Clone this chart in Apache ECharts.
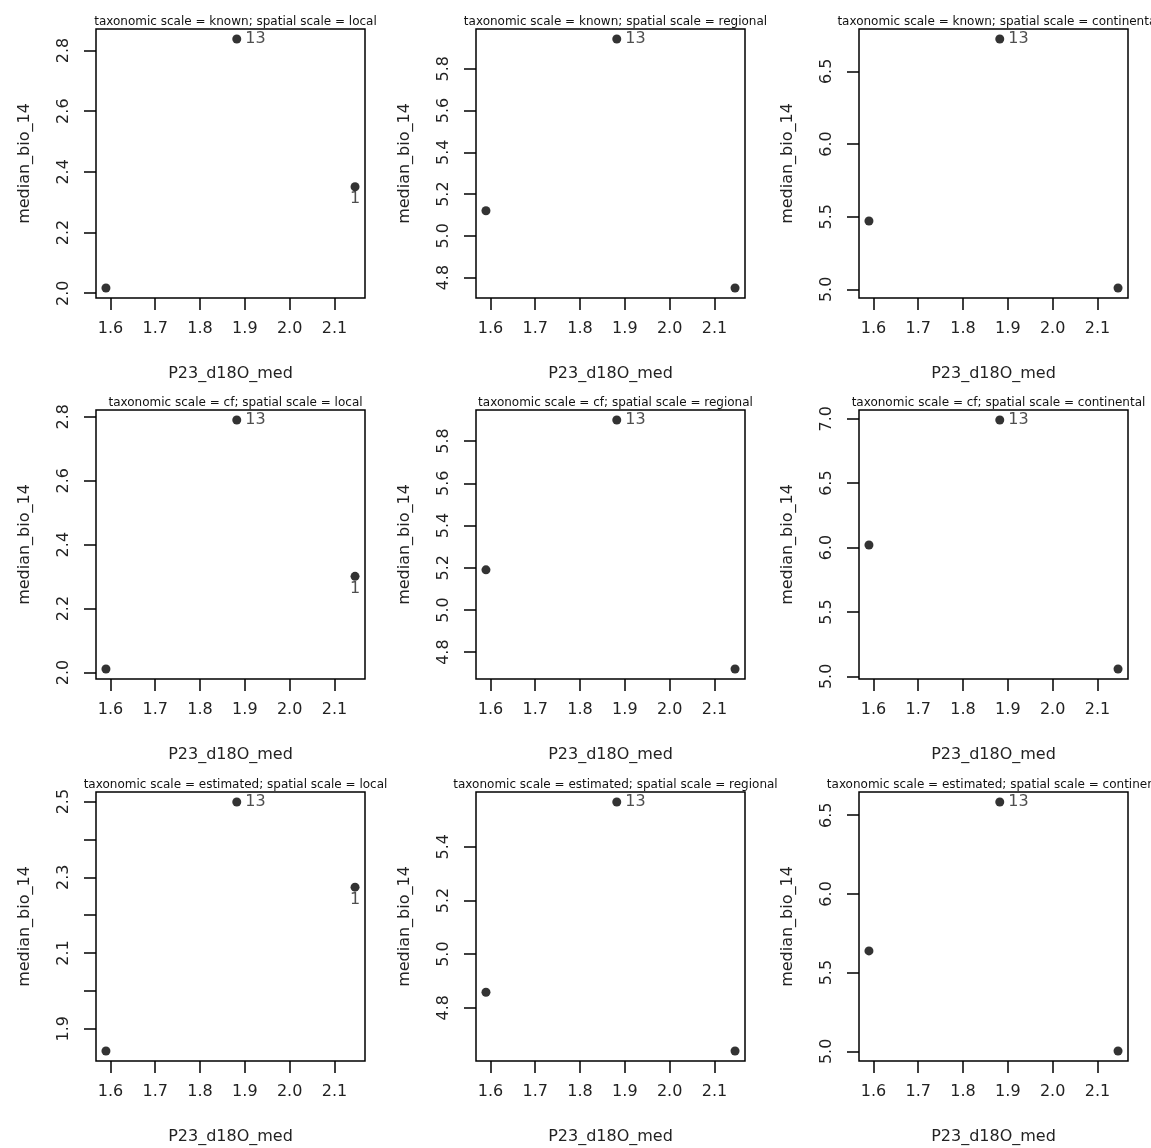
<!DOCTYPE html>
<html>
<head>
<meta charset="utf-8">
<script src="https://cdn.jsdelivr.net/npm/echarts@6/dist/echarts.min.js"></script>
<style>
html,body{margin:0;padding:0;background:#fff;}
#chart{width:1151px;height:1148px;}
</style>
</head>
<body>
<div id="chart"></div>
<script>
// ---- data ----
const xValues = [1.59, 1.882, 2.146];
const xTicks = [1.6, 1.7, 1.8, 1.9, 2.0, 2.1];
const xName = 'P23_d18O_med';
const yName = 'median_bio_14';

const yKnownLocal = [2.017, 2.838, 2.351];
const yKnownRegional = [5.12, 5.943, 4.75];
const yKnownContinental = [5.47, 6.723, 5.009];
const yCfLocal = [2.011, 2.79, 2.301];
const yCfRegional = [5.19, 5.9, 4.72];
const yCfContinental = [6.02, 6.99, 5.057];
const yEstLocal = [1.841, 2.499, 2.274];
const yEstRegional = [4.858, 5.567, 4.639];
const yEstContinental = [5.638, 6.584, 5.002];

const ticksKnownLocal = [2.0, 2.2, 2.4, 2.6, 2.8];
const ticksKnownRegional = [4.8, 5.0, 5.2, 5.4, 5.6, 5.8];
const ticksKnownContinental = [5.0, 5.5, 6.0, 6.5];
const ticksCfLocal = [2.0, 2.2, 2.4, 2.6, 2.8];
const ticksCfRegional = [4.8, 5.0, 5.2, 5.4, 5.6, 5.8];
const ticksCfContinental = [5.0, 5.5, 6.0, 6.5, 7.0];
const ticksEstLocal = [1.9, 2.0, 2.1, 2.2, 2.3, 2.4, 2.5];
const labelsEstLocal = [1.9, 2.1, 2.3, 2.5];
const ticksEstRegional = [4.8, 5.0, 5.2, 5.4];
const ticksEstContinental = [5.0, 5.5, 6.0, 6.5];

const pointLabelsLocal = ['', '13', '1'];
const pointLabelsOther = ['', '13', ''];

const panelTitles = [
  'taxonomic scale = known; spatial scale = local',
  'taxonomic scale = known; spatial scale = regional',
  'taxonomic scale = known; spatial scale = continental',
  'taxonomic scale = cf; spatial scale = local',
  'taxonomic scale = cf; spatial scale = regional',
  'taxonomic scale = cf; spatial scale = continental',
  'taxonomic scale = estimated; spatial scale = local',
  'taxonomic scale = estimated; spatial scale = regional',
  'taxonomic scale = estimated; spatial scale = continental'
];

const panels = [
  {y: yKnownLocal, ticks: ticksKnownLocal, labels: ticksKnownLocal, pts: pointLabelsLocal},
  {y: yKnownRegional, ticks: ticksKnownRegional, labels: ticksKnownRegional, pts: pointLabelsOther},
  {y: yKnownContinental, ticks: ticksKnownContinental, labels: ticksKnownContinental, pts: pointLabelsOther},
  {y: yCfLocal, ticks: ticksCfLocal, labels: ticksCfLocal, pts: pointLabelsLocal},
  {y: yCfRegional, ticks: ticksCfRegional, labels: ticksCfRegional, pts: pointLabelsOther},
  {y: yCfContinental, ticks: ticksCfContinental, labels: ticksCfContinental, pts: pointLabelsOther},
  {y: yEstLocal, ticks: ticksEstLocal, labels: labelsEstLocal, pts: pointLabelsLocal},
  {y: yEstRegional, ticks: ticksEstRegional, labels: ticksEstRegional, pts: pointLabelsOther},
  {y: yEstContinental, ticks: ticksEstContinental, labels: ticksEstContinental, pts: pointLabelsOther}
];

// ---- layout ----
const colLeft = [96, 476, 859];
const rowTop = [29, 410, 792];
const boxW = 269, boxH = 269;
const FONT = 'DejaVu Sans';
const TXT = '#222';

function ext(arr) {
  const mn = Math.min(...arr), mx = Math.max(...arr);
  const r = mx - mn;
  return [mn - 0.04 * r, mx + 0.04 * r];
}
const fmt = v => Number(v).toFixed(1);
const labelPos = [null, 'right', 'bottom'];

const option = {animation: false, backgroundColor: '#fff', title: [], grid: [], xAxis: [], yAxis: [], series: []};
const xr = ext(xValues);

panels.forEach((p, i) => {
  const row = Math.floor(i / 3), col = i % 3;
  const yr = ext(p.y);
  option.title.push({
    text: panelTitles[i],
    left: colLeft[col] + boxW / 2,
    top: rowTop[row] - 18,
    textAlign: 'center',
    textStyle: {fontFamily: FONT, fontSize: 12, fontWeight: 'normal', color: '#111'}
  });
  option.grid.push({
    left: colLeft[col], top: rowTop[row], width: boxW, height: boxH,
    show: true, borderColor: '#000', borderWidth: 1.5, backgroundColor: 'transparent'
  });
  option.xAxis.push({
    gridIndex: i, type: 'value', min: xr[0], max: xr[1],
    axisLine: {show: false},
    splitLine: {show: false},
    axisTick: {show: true, customValues: xTicks, length: 12, lineStyle: {color: '#000', width: 1.5}},
    axisLabel: {customValues: xTicks, formatter: fmt, margin: 23, fontSize: 16, fontFamily: FONT, color: TXT},
    name: xName, nameLocation: 'middle', nameGap: 68,
    nameTextStyle: {fontSize: 16, fontFamily: FONT, color: TXT}
  });
  option.yAxis.push({
    gridIndex: i, type: 'value', min: yr[0], max: yr[1],
    axisLine: {show: false},
    splitLine: {show: false},
    axisTick: {show: true, customValues: p.ticks, length: 12, lineStyle: {color: '#000', width: 1.5}},
    axisLabel: {customValues: p.labels, formatter: fmt, rotate: 90, margin: 24, fontSize: 16, fontFamily: FONT, color: TXT},
    name: yName, nameLocation: 'middle', nameGap: 63,
    nameTextStyle: {fontSize: 16, fontFamily: FONT, color: TXT}
  });
  option.series.push({
    type: 'scatter', xAxisIndex: i, yAxisIndex: i,
    symbol: 'circle', symbolSize: 9,
    itemStyle: {color: '#000'},
    data: xValues.map((x, j) => ({
      value: [x, p.y[j]],
      label: {
        show: p.pts[j] !== '',
        formatter: p.pts[j],
        position: labelPos[j] || 'right',
        distance: labelPos[j] === 'bottom' ? 0 : 4,
        fontSize: 16, fontFamily: FONT, color: TXT
      }
    }))
  });
});

const chart = echarts.init(document.getElementById('chart'), null, {renderer: 'canvas'});
chart.setOption(option);
</script>
</body>
</html>
